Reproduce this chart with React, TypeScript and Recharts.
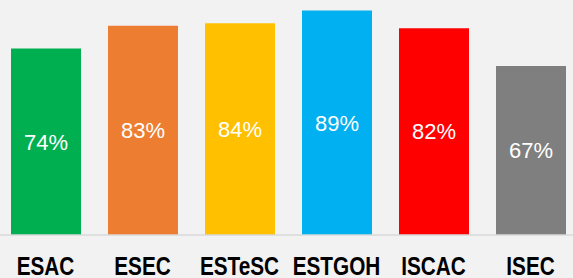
import React from "react";
import { BarChart, Bar, XAxis, YAxis, Cell, LabelList } from "recharts";

const categories = ["ESAC", "ESEC", "ESTeSC", "ESTGOH", "ISCAC", "ISEC"];
const values = [74, 83, 84, 89, 82, 67];
const colors = ["#00b050", "#ed7d31", "#ffc000", "#00b0f0", "#ff0000", "#7f7f7f"];

const data = categories.map((name, i) => ({ name, value: values[i] }));

const NarrowTick = (props: any) => {
  const { x, y, payload } = props;
  return (
    <g transform={`translate(${x},${y}) scale(0.83,1)`}>
      <text
        x={0}
        y={0}
        dy="0.71em"
        textAnchor="middle"
        fill="#000000"
        fontSize={25}
        fontWeight={700}
        fontFamily="'Liberation Sans', Arial, sans-serif"
      >
        {payload.value}
      </text>
    </g>
  );
};

export default function App() {
  return (
    <div
      style={{
        position: "absolute",
        left: 0,
        top: 0,
        width: 573,
        height: 278,
        overflow: "hidden",
        background: "#f2f2f2",
      }}
    >
      <div style={{ position: "absolute", left: -3.5, top: 0 }}>
        <BarChart
          width={582}
          height={278}
          data={data}
          margin={{ top: 0, right: 0, bottom: 0, left: 0 }}
        >
          <XAxis
            dataKey="name"
            height={43}
            tickLine={false}
            tickSize={0}
            tickMargin={22}
            axisLine={{ stroke: "#d9d9d9", strokeWidth: 1.5 }}
            tick={<NarrowTick />}
            interval={0}
          />
          <YAxis hide domain={[0, 93.2]} />
          <Bar dataKey="value" barSize={70} isAnimationActive={false}>
            {data.map((d, i) => (
              <Cell key={d.name} fill={colors[i]} />
            ))}
            <LabelList
              dataKey="value"
              position="center"
              formatter={(v: number) => `${v}%`}
              style={{
                fill: "#ffffff",
                fontSize: 22,
                fontFamily: "'Liberation Sans', Arial, sans-serif",
              }}
            />
          </Bar>
        </BarChart>
      </div>
    </div>
  );
}
